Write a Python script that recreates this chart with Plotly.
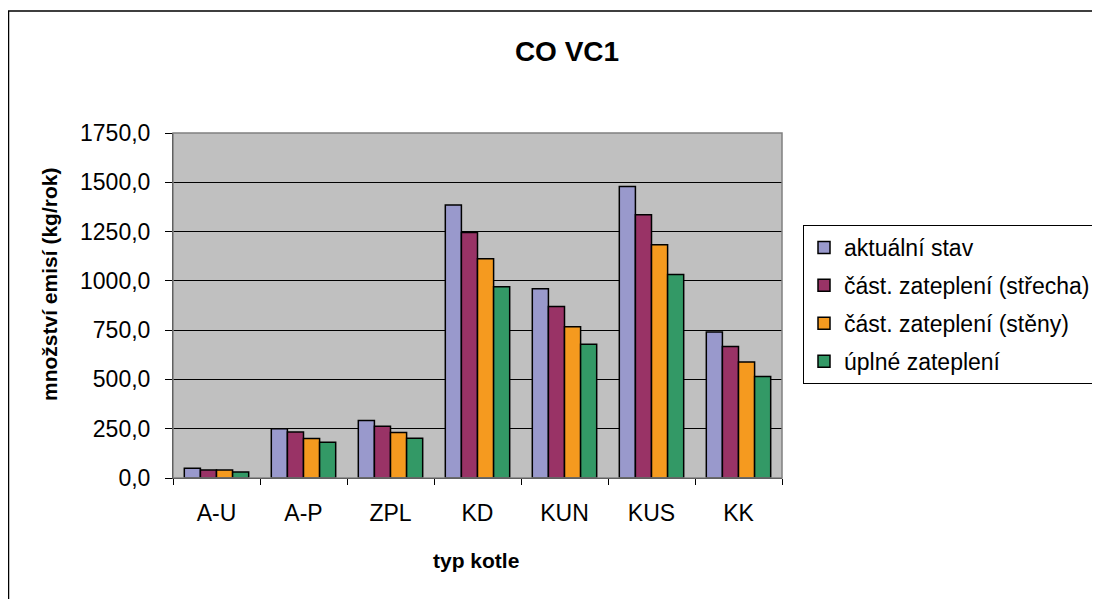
import plotly.graph_objects as go

categories = ["A-U", "A-P", "ZPL", "KD", "KUN", "KUS", "KK"]
series_names = ["aktuální stav", "část. zateplení (střecha)", "část. zateplení (stěny)", "úplné zateplení"]
aktualni = [50, 250, 292, 1385, 960, 1478, 740]
strecha = [40, 233, 262, 1245, 870, 1335, 667]
steny = [40, 200, 231, 1112, 767, 1183, 588]
uplne = [30, 181, 201, 970, 678, 1032, 515]
colors = ["#9999CC", "#993366", "#F59A1F", "#339966"]
y_ticks = [0, 250, 500, 750, 1000, 1250, 1500, 1750]

FONT = "Liberation Sans, Arial, sans-serif"
FS = 23
FSB = 21

OFF = 8  # page body margin
W, H = 1100 - OFF, 599 - OFF
# plot area in absolute page pixels
L, R, T, B = 173, 782, 133, 478
Lf, Rf, Tf, Bf = L - OFF, R - OFF, T - OFF, B - OFF
pw, ph = Rf - Lf, Bf - Tf


def px(p):
    return (p - OFF - Lf) / pw


def py(q):
    return (Bf - (q - OFF)) / ph


fig = go.Figure()
for i, (name, vals, c) in enumerate(zip(series_names, [aktualni, strecha, steny, uplne], colors)):
    fig.add_trace(go.Bar(x=categories, y=vals, name=name, legendgroup=f"g{i}",
                         marker=dict(color=c, line=dict(color="black", width=1.5))))

fig.update_layout(
    width=W, height=H,
    margin=dict(l=Lf, r=W - Rf, t=Tf, b=H - Bf, pad=0, autoexpand=False),
    paper_bgcolor="white",
    plot_bgcolor="#C0C0C0",
    separators=", ",
    font=dict(family=FONT, size=FS, color="black"),
    barmode="group",
    bargap=0.26,
    bargroupgap=0,
    title=dict(text="<b>CO VC1</b>", x=559 / W, xanchor="center", y=1 - (51 - OFF) / H, yanchor="middle",
               xref="container", yref="container",
               font=dict(family=FONT, size=28, color="black")),
    showlegend=True,
    legend=dict(x=px(803), y=py(225), xanchor="left", yanchor="top",
                bgcolor="white", bordercolor="black", borderwidth=1,
                font=dict(family=FONT, size=FS, color="black"),
                itemwidth=30, tracegroupgap=5),
    xaxis=dict(
        type="category",
        showline=True, linecolor="black", linewidth=1,
        ticks="outside", ticklen=6, tickcolor="black", tickson="boundaries",
        ticklabelstandoff=14,
        showgrid=False,
        tickfont=dict(family=FONT, size=FS),
    ),
    yaxis=dict(
        range=[0, 1750],
        tickvals=y_ticks, tickformat=".1f",
        showline=True, linecolor="black", linewidth=1,
        ticks="outside", ticklen=7, tickcolor="black",
        ticklabelstandoff=10,
        showgrid=True, gridcolor="black", gridwidth=1,
        zeroline=False,
        tickfont=dict(family=FONT, size=FS),
    ),
    annotations=[
        dict(text="<b>typ kotle</b>", xref="paper", yref="paper", x=px(476), y=py(560),
             xanchor="center", yanchor="middle", showarrow=False,
             font=dict(family=FONT, size=FSB, color="black")),
        dict(text="<b>množství emisí (kg/rok)</b>", xref="paper", yref="paper", x=px(49), y=py(285),
             xanchor="center", yanchor="middle", showarrow=False, textangle=-90,
             font=dict(family=FONT, size=FSB, color="black")),
    ],
    shapes=[
        dict(type="rect", xref="paper", yref="paper", x0=0, x1=1, y0=0, y1=1,
             line=dict(color="#808080", width=1.5), fillcolor="rgba(0,0,0,0)", layer="above"),
        dict(type="rect", xref="paper", yref="paper", x0=px(OFF + 0.5), x1=px(1300), y0=py(900), y1=py(11),
             line=dict(color="black", width=1.5), fillcolor="rgba(0,0,0,0)"),
    ],
)

fig.write_html("out.html")
